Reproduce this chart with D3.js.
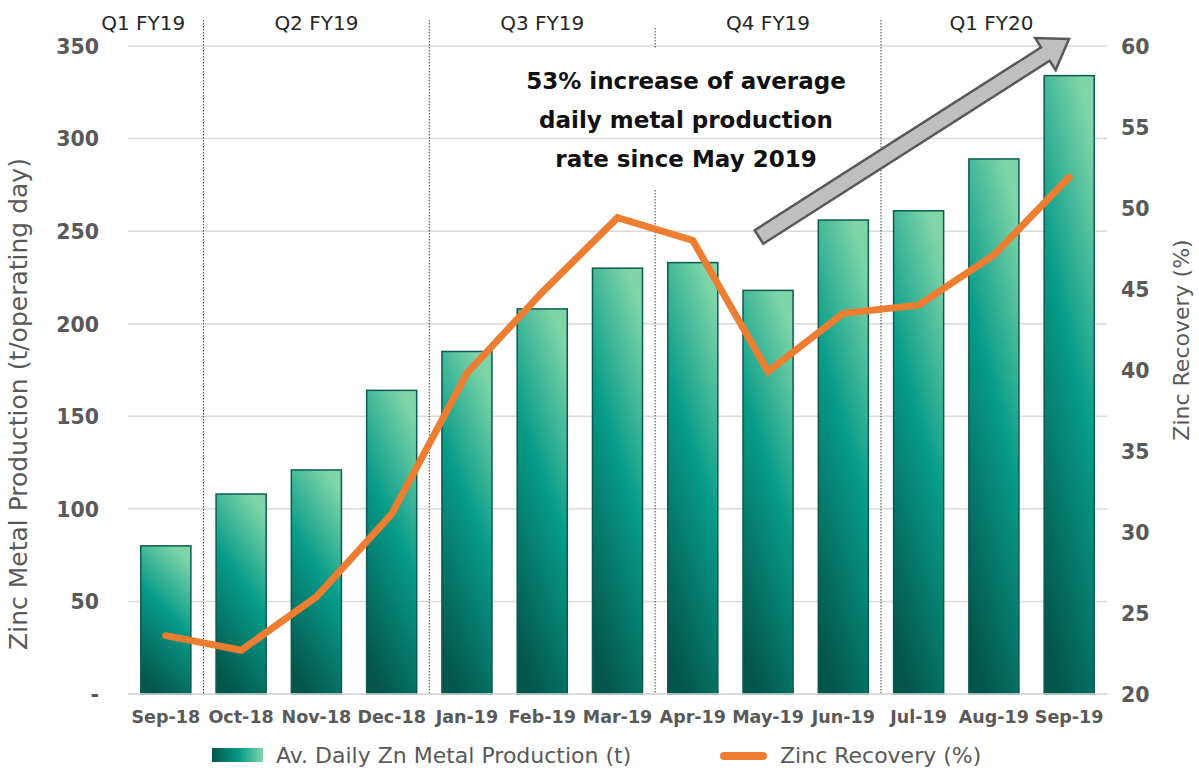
<!DOCTYPE html>
<html>
<head>
<meta charset="utf-8">
<script src="https://cdn.jsdelivr.net/npm/d3@7"></script>
<style>
    body { margin: 0; background: #fff; }
    svg { display: block; font-family: "DejaVu Sans", sans-serif; }
</style>
</head>
<body>
<svg id="chart" width="1199" height="776"></svg>
<script>
/*globals d3*/

var months = ["Sep-18", "Oct-18", "Nov-18", "Dec-18", "Jan-19", "Feb-19", "Mar-19",
    "Apr-19", "May-19", "Jun-19", "Jul-19", "Aug-19", "Sep-19"];
var production = [80, 108, 121, 164, 185, 208, 230, 233, 218, 256, 261, 289, 334];
var recovery = [23.6, 22.7, 26.0, 31.1, 39.8, 44.8, 49.4, 48.0, 39.9, 43.5, 44.0, 47.1, 51.9];
var prodTicks = [0, 50, 100, 150, 200, 250, 300, 350];
var recTicks = [20, 25, 30, 35, 40, 45, 50, 55, 60];
var quarters = ["Q1 FY19", "Q2 FY19", "Q3 FY19", "Q4 FY19", "Q1 FY20"];
// month index where each quarter starts
var quarterStart = [0, 1, 4, 7, 10];
var note = ["53% increase of average", "daily metal production", "rate since May 2019"];

(function () {
    "use strict";

    var svg = d3.select("#chart"),
        font = "\"DejaVu Sans\", sans-serif",
        left = 128,
        right = 1107,
        top = 46,
        bottom = 694,
        x,
        y,
        y2,
        defs,
        grad,
        lgrad,
        line,
        qEdges;

    function styleTicks(g, size) {
        g.select(".domain").remove();
        g.attr("font-family", font);
        g.selectAll("text")
            .style("font-size", size)
            .style("font-weight", "bold")
            .attr("fill", "#595959");
    }

    x = d3.scaleBand().domain(months).range([left, right]).paddingInner(0.335).paddingOuter(0.17);
    y = d3.scaleLinear().domain([0, 350]).range([bottom, top]);
    y2 = d3.scaleLinear().domain([20, 60]).range([bottom, top]);

    defs = svg.append("defs");
    grad = defs.append("linearGradient").attr("id", "barGrad")
        .attr("x1", 0.7).attr("y1", 0).attr("x2", 0.35).attr("y2", 1);
    grad.append("stop").attr("offset", "0%").attr("stop-color", "#80d5a8");
    grad.append("stop").attr("offset", "45%").attr("stop-color", "#079c89");
    grad.append("stop").attr("offset", "100%").attr("stop-color", "#04564c");

    lgrad = defs.append("linearGradient").attr("id", "legGrad")
        .attr("x1", 0).attr("y1", 0).attr("x2", 1).attr("y2", 0);
    lgrad.append("stop").attr("offset", "0%").attr("stop-color", "#04564c");
    lgrad.append("stop").attr("offset", "55%").attr("stop-color", "#079c89");
    lgrad.append("stop").attr("offset", "100%").attr("stop-color", "#80d5a8");

    // gridlines
    svg.append("g").selectAll("line").data(prodTicks).enter().append("line")
        .attr("x1", left).attr("x2", right)
        .attr("y1", function (d) { return y(d); })
        .attr("y2", function (d) { return y(d); })
        .attr("stroke", "#d9d9d9").attr("stroke-width", 1.5);

    // quarter dividers
    qEdges = quarterStart.slice(1).map(function (i) {
        return x(months[i]) - x.step() * x.paddingInner() / 2;
    });
    svg.append("g").selectAll("line").data(qEdges).enter().append("line")
        .attr("x1", function (d) { return d; })
        .attr("x2", function (d) { return d; })
        .attr("y1", function (d, i) { return i === 2 ? 190 : 20; })
        .attr("y2", bottom)
        .attr("stroke", "#404040").attr("stroke-width", 1)
        .attr("stroke-dasharray", "1.5,1.5");
    svg.append("line")
        .attr("x1", qEdges[2]).attr("x2", qEdges[2])
        .attr("y1", 28).attr("y2", 49)
        .attr("stroke", "#404040").attr("stroke-width", 1)
        .attr("stroke-dasharray", "1.5,1.5");

    // quarter labels
    svg.append("g").selectAll("text").data(quarters).enter().append("text")
        .attr("x", function (d, i) {
            var a = i === 0 ? left - 45 : qEdges[i - 1],
                b = i === quarters.length - 1 ? right - 5 : qEdges[i];
            return (a + b) / 2;
        })
        .attr("y", 30)
        .attr("text-anchor", "middle")
        .style("font-size", "20px")
        .attr("fill", "#262626")
        .text(function (d) { return d; });

    // bars
    svg.append("g").selectAll("rect").data(production).enter().append("rect")
        .attr("x", function (d, i) { return x(months[i]); })
        .attr("y", function (d) { return y(d); })
        .attr("width", x.bandwidth())
        .attr("height", function (d) { return y(0) - y(d); })
        .attr("fill", "url(#barGrad)")
        .attr("stroke", "#0b5a50").attr("stroke-width", 1.5);

    // recovery line
    line = d3.line()
        .x(function (d, i) { return x(months[i]) + x.bandwidth() / 2; })
        .y(function (d) { return y2(d); });
    svg.append("path").datum(recovery)
        .attr("d", line)
        .attr("fill", "none")
        .attr("stroke", "#ed7d31")
        .attr("stroke-width", 7)
        .attr("stroke-linecap", "round")
        .attr("stroke-linejoin", "miter");

    // axes
    svg.append("g")
        .attr("transform", "translate(" + (left - 26) + ",0)")
        .call(d3.axisLeft(y).tickValues(prodTicks).tickSize(0)
            .tickFormat(function (d) { return d === 0 ? "-" : d; }))
        .call(function (g) {
            styleTicks(g, "20.5px");
            g.selectAll("text").attr("dy", "0.36em");
        });

    svg.append("g")
        .attr("transform", "translate(" + (right + 11) + ",0)")
        .call(d3.axisRight(y2).tickValues(recTicks).tickSize(0))
        .call(function (g) {
            styleTicks(g, "20.5px");
            g.selectAll("text").attr("dy", "0.36em");
        });

    svg.append("g")
        .attr("transform", "translate(0," + (bottom + 10) + ")")
        .call(d3.axisBottom(x).tickSize(0))
        .call(function (g) {
            styleTicks(g, "17.5px");
            g.selectAll("text").attr("dy", "0.9em");
        });

    svg.append("line")
        .attr("x1", left).attr("x2", right)
        .attr("y1", bottom).attr("y2", bottom)
        .attr("stroke", "#d9d9d9").attr("stroke-width", 1.5);

    // axis titles
    svg.append("text")
        .attr("transform", "translate(27," + ((top + bottom) / 2 + 34) + ") rotate(-90)")
        .attr("text-anchor", "middle")
        .style("font-size", "25px")
        .attr("fill", "#595959")
        .text("Zinc Metal Production (t/operating day)");

    svg.append("text")
        .attr("transform", "translate(1189," + ((top + bottom) / 2 - 30) + ") rotate(-90)")
        .attr("text-anchor", "middle")
        .style("font-size", "22px")
        .attr("fill", "#595959")
        .text("Zinc Recovery (%)");

    // annotation
    svg.append("g").selectAll("text").data(note).enter().append("text")
        .attr("x", 686)
        .attr("y", function (d, i) { return 89 + i * 39; })
        .attr("text-anchor", "middle")
        .style("font-size", "23px")
        .style("font-weight", "bold")
        .attr("fill", "#111")
        .text(function (d) { return d; });

    // block arrow
    (function () {
        var x0 = 759, y0 = 237, x1 = 1069, y1 = 39,
            dx = x1 - x0, dy = y1 - y0,
            len = Math.sqrt(dx * dx + dy * dy),
            ux = dx / len, uy = dy / len,
            px = -uy, py = ux,
            sw = 8, hw = 19, hl = 28,
            bx = x1 - ux * hl, by = y1 - uy * hl,
            pts = [
                [x0 + px * sw, y0 + py * sw],
                [bx + px * sw, by + py * sw],
                [bx + px * hw, by + py * hw],
                [x1, y1],
                [bx - px * hw, by - py * hw],
                [bx - px * sw, by - py * sw],
                [x0 - px * sw, y0 - py * sw]
            ];
        svg.append("path")
            .attr("d", "M" + pts.map(function (p) { return p.join(","); }).join("L") + "Z")
            .attr("fill", "#bfbfbf")
            .attr("stroke", "#595959")
            .attr("stroke-width", 2.5)
            .attr("stroke-linejoin", "miter");
    }());

    // legend
    svg.append("rect")
        .attr("x", 212).attr("y", 748).attr("width", 51).attr("height", 14)
        .attr("fill", "url(#legGrad)");
    svg.append("text")
        .attr("x", 276).attr("y", 763)
        .style("font-size", "22px").attr("fill", "#595959")
        .text("Av. Daily Zn Metal Production (t)");
    svg.append("line")
        .attr("x1", 724).attr("x2", 763).attr("y1", 756).attr("y2", 756)
        .attr("stroke", "#ed7d31").attr("stroke-width", 8)
        .attr("stroke-linecap", "round");
    svg.append("text")
        .attr("x", 780).attr("y", 763)
        .style("font-size", "22px").attr("fill", "#595959")
        .text("Zinc Recovery (%)");
}());
</script>
</body>
</html>
